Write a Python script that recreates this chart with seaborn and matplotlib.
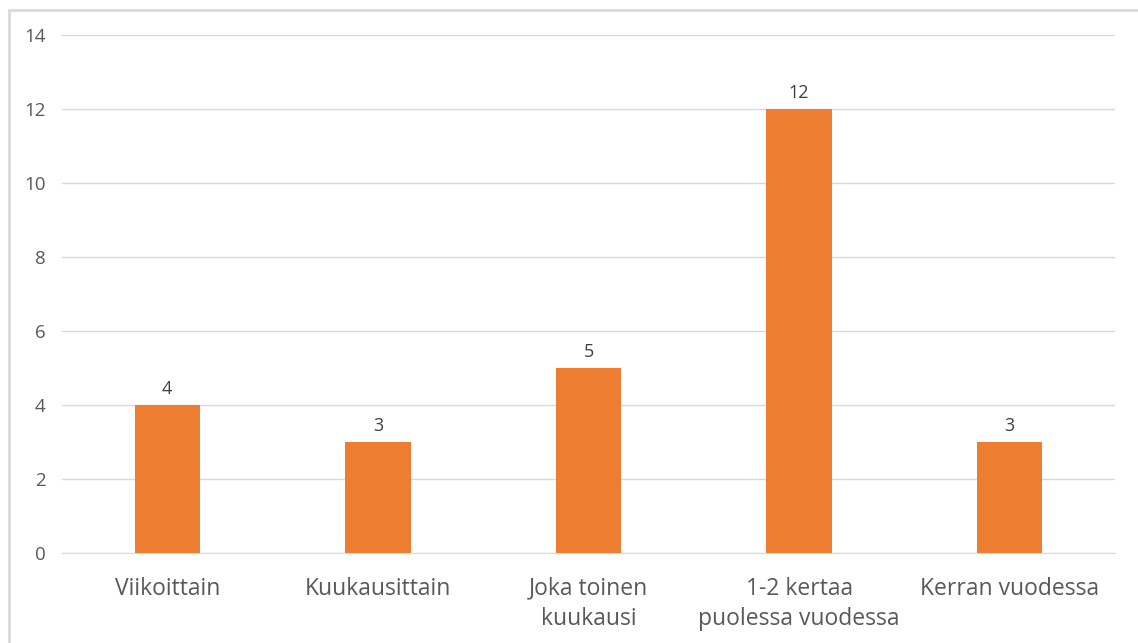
import matplotlib
matplotlib.use('Agg')
import matplotlib.pyplot as plt
import seaborn as sns
import pandas as pd
from matplotlib.patches import Rectangle

# Data
categories = ['Viikoittain', 'Kuukausittain', 'Joka toinen\nkuukausi',
              '1-2 kertaa\npuolessa vuodessa', 'Kerran vuodessa']
values = [4, 3, 5, 12, 3]
y_ticks = [0, 2, 4, 6, 8, 10, 12, 14]

sns.set_style('white')
plt.rcParams['font.family'] = ['Open Sans', 'DejaVu Sans']

df = pd.DataFrame({'category': categories, 'count': values})

fig = plt.figure(figsize=(11.38, 6.43), dpi=100)
ax = fig.add_axes([62 / 1138, 90 / 643, (1115 - 62) / 1138, (553 - 35) / 643])

sns.barplot(data=df, x='category', y='count', color='#ED7D31', saturation=1,
            width=0.31, linewidth=0, ax=ax)

ax.set_ylim(0, 14)
ax.set_xlim(-0.5, len(categories) - 0.5)
ax.set_yticks(y_ticks)
ax.yaxis.grid(True, color='#D9D9D9', linewidth=1)
ax.set_axisbelow(True)
for side in ['top', 'right', 'left']:
    ax.spines[side].set_visible(False)
ax.spines['bottom'].set_color('#D9D9D9')
ax.tick_params(axis='y', length=0, pad=12, labelsize=13.5, labelcolor='#595959')
ax.tick_params(axis='x', length=0, pad=17, labelsize=16.5, labelcolor='#595959')
plt.setp(ax.get_xticklabels(), linespacing=1.35)
ax.set_xlabel('')
ax.set_ylabel('')

# value labels
for i, v in enumerate(values):
    ax.annotate(str(v), (i, v), xytext=(0, 5), textcoords='offset points',
                ha='center', va='bottom', fontsize=13, color='#404040')

# outer frame
fig.patches.append(Rectangle((9 / 1138, -0.1), 1.2, (643 - 10) / 643 + 0.1,
                             transform=fig.transFigure, fill=False,
                             edgecolor='#D9D9D9', linewidth=2))

plt.savefig('out.png', dpi=100)
plt.close()
